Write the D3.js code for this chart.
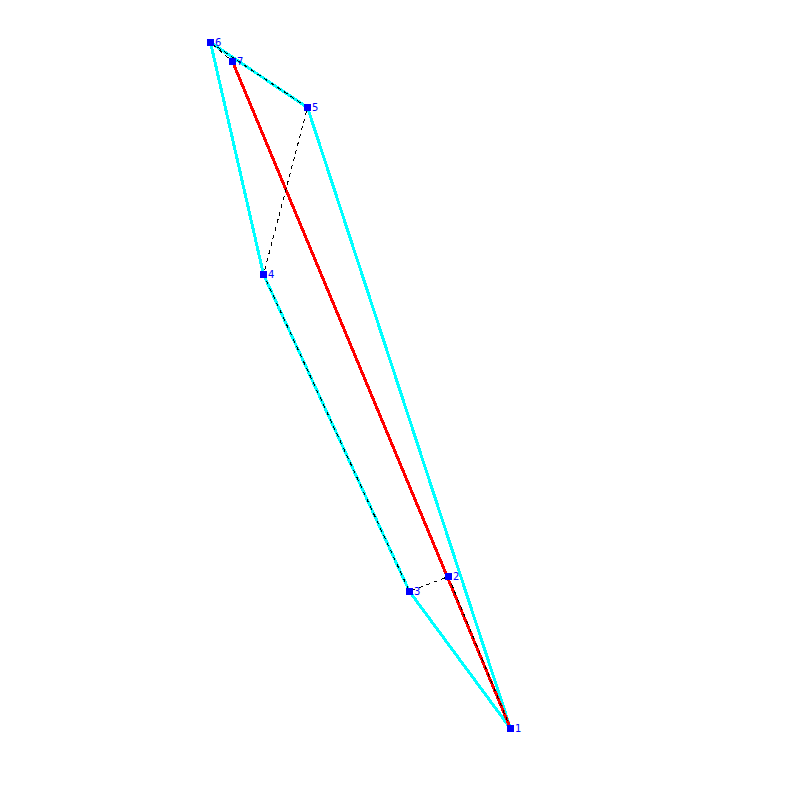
<!DOCTYPE html>
<html lang="en">

<head>
    <meta charset="UTF-8">
    <script src="https://d3js.org/d3.v7.min.js"></script>
    <title>Convex hull</title>
    <style>
        html, body {
            margin: 0;
            padding: 0;
            background: white;
        }

        svg {
            display: block;
        }

        path, rect {
            shape-rendering: crispEdges;
        }

        text {
            font-family: 'DejaVu Sans', sans-serif;
            font-size: 10px;
            fill: #0000ff;
        }
    </style>
</head>

<body>
    <div id="chart"></div>

    <script>
        // point coordinates
        const pointIds = [1, 2, 3, 4, 5, 6, 7];
        const xValues = [510, 448, 409, 263, 307, 210, 232];
        const yValues = [728, 576, 591, 274, 107, 42, 61];

        // paths are lists of point ids
        const hullPath = [1, 5, 6, 4, 3, 1];
        const visitPath = [1, 2, 3, 4, 5, 6, 7];
        const shortestPath = [1, 7];

        const width = 800;
        const height = 800;

        const svg = d3.select("#chart").append("svg")
            .attr("width", width)
            .attr("height", height);

        const xScale = d3.scaleLinear().domain([0, 800]).range([0, width]);
        const yScale = d3.scaleLinear().domain([0, 800]).range([0, height]);

        const line = d3.line()
            .x(id => xScale(xValues[pointIds.indexOf(id)]) + 0.5)
            .y(id => yScale(yValues[pointIds.indexOf(id)]) + 0.5);

        // hull goes underneath, then red, then the thin dashed path on top
        svg.append("path")
            .attr("d", line(hullPath))
            .attr("fill", "none")
            .attr("stroke", "#00ffff")
            .attr("stroke-width", 3);

        svg.append("path")
            .attr("d", line(shortestPath))
            .attr("fill", "none")
            .attr("stroke", "#ff0000")
            .attr("stroke-width", 3);

        svg.append("path")
            .attr("d", line(visitPath))
            .attr("fill", "none")
            .attr("stroke", "#000000")
            .attr("stroke-width", 1)
            .attr("stroke-dasharray", "4,4");

        svg.selectAll("rect")
            .data(pointIds)
            .enter()
            .append("rect")
            .attr("x", (d, i) => xScale(xValues[i]) - 3)
            .attr("y", (d, i) => yScale(yValues[i]) - 3)
            .attr("width", 7)
            .attr("height", 7)
            .attr("fill", "#0000ff");

        svg.selectAll("text")
            .data(pointIds)
            .enter()
            .append("text")
            .attr("x", (d, i) => xScale(xValues[i]) + 5)
            .attr("y", (d, i) => yScale(yValues[i]) + 4)
            .text(d => d);
    </script>
</body>

</html>
